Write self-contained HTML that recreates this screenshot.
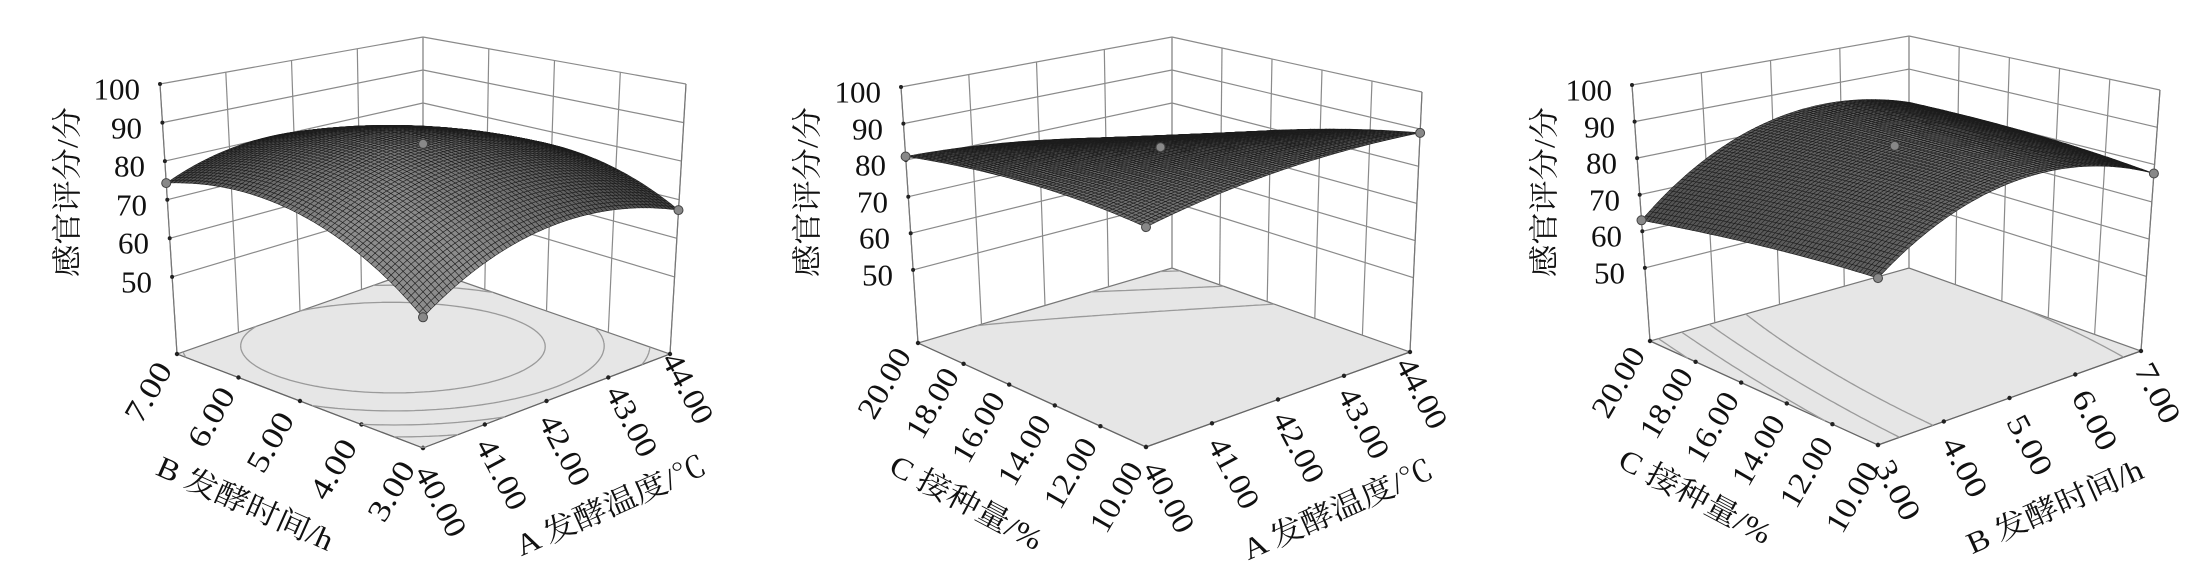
<!DOCTYPE html>
<html><head><meta charset="utf-8"><style>
html,body{margin:0;padding:0;background:#fff}
svg{display:block}
.n{font-family:"Liberation Serif","Noto Serif CJK SC",serif;font-size:31px;fill:#111}
.t{font-family:"Liberation Serif","Noto Serif CJK SC",serif;font-size:30px;fill:#111}
</style></head><body>
<svg id="s" width="2204" height="574" viewBox="0 0 2204 574" xmlns="http://www.w3.org/2000/svg">
<g id="geo"></g>
<g id="txt">
<g class="n" text-anchor="end" dominant-baseline="central">
<text x="140" y="89">100</text><text x="142" y="128">90</text><text x="145" y="166">80</text><text x="147" y="205">70</text><text x="149" y="243">60</text><text x="152" y="282">50</text>
<text x="881" y="92">100</text><text x="883" y="129">90</text><text x="886" y="165">80</text><text x="888" y="202">70</text><text x="890" y="238">60</text><text x="893" y="275">50</text>
<text x="1612" y="90">100</text><text x="1615" y="127">90</text><text x="1617" y="163">80</text><text x="1620" y="200">70</text><text x="1622" y="236">60</text><text x="1625" y="273">50</text>
</g>
<g class="t" text-anchor="middle" dominant-baseline="central">
<text transform="translate(68,192) rotate(-90)" textLength="170" lengthAdjust="spacingAndGlyphs">感官评分/分</text>
<text transform="translate(808,192) rotate(-90)" textLength="170" lengthAdjust="spacingAndGlyphs">感官评分/分</text>
<text transform="translate(1545,192) rotate(-90)" textLength="170" lengthAdjust="spacingAndGlyphs">感官评分/分</text>
</g>
<g class="n" text-anchor="middle" dominant-baseline="central">
<text transform="translate(148,392) rotate(-60)" textLength="64" lengthAdjust="spacingAndGlyphs">7.00</text>
<text transform="translate(211,417) rotate(-60)" textLength="64" lengthAdjust="spacingAndGlyphs">6.00</text>
<text transform="translate(270,442) rotate(-60)" textLength="64" lengthAdjust="spacingAndGlyphs">5.00</text>
<text transform="translate(333,469) rotate(-60)" textLength="64" lengthAdjust="spacingAndGlyphs">4.00</text>
<text transform="translate(391,491) rotate(-60)" textLength="64" lengthAdjust="spacingAndGlyphs">3.00</text>
<text transform="translate(441,501) rotate(62)" textLength="76" lengthAdjust="spacingAndGlyphs">40.00</text>
<text transform="translate(502,474) rotate(62)" textLength="76" lengthAdjust="spacingAndGlyphs">41.00</text>
<text transform="translate(565,450) rotate(62)" textLength="76" lengthAdjust="spacingAndGlyphs">42.00</text>
<text transform="translate(632,421) rotate(62)" textLength="76" lengthAdjust="spacingAndGlyphs">43.00</text>
<text transform="translate(688,388) rotate(62)" textLength="76" lengthAdjust="spacingAndGlyphs">44.00</text>
<text transform="translate(884,383) rotate(-60)" textLength="76" lengthAdjust="spacingAndGlyphs">20.00</text>
<text transform="translate(932,403) rotate(-60)" textLength="76" lengthAdjust="spacingAndGlyphs">18.00</text>
<text transform="translate(978,427) rotate(-60)" textLength="76" lengthAdjust="spacingAndGlyphs">16.00</text>
<text transform="translate(1024,450) rotate(-60)" textLength="76" lengthAdjust="spacingAndGlyphs">14.00</text>
<text transform="translate(1070,473) rotate(-60)" textLength="76" lengthAdjust="spacingAndGlyphs">12.00</text>
<text transform="translate(1116,497) rotate(-60)" textLength="76" lengthAdjust="spacingAndGlyphs">10.00</text>
<text transform="translate(1169,497) rotate(62)" textLength="76" lengthAdjust="spacingAndGlyphs">40.00</text>
<text transform="translate(1234,473) rotate(62)" textLength="76" lengthAdjust="spacingAndGlyphs">41.00</text>
<text transform="translate(1299,447) rotate(62)" textLength="76" lengthAdjust="spacingAndGlyphs">42.00</text>
<text transform="translate(1364,423) rotate(62)" textLength="76" lengthAdjust="spacingAndGlyphs">43.00</text>
<text transform="translate(1422,393) rotate(62)" textLength="76" lengthAdjust="spacingAndGlyphs">44.00</text>
<text transform="translate(1618,382) rotate(-60)" textLength="76" lengthAdjust="spacingAndGlyphs">20.00</text>
<text transform="translate(1666,403) rotate(-60)" textLength="76" lengthAdjust="spacingAndGlyphs">18.00</text>
<text transform="translate(1712,427) rotate(-60)" textLength="76" lengthAdjust="spacingAndGlyphs">16.00</text>
<text transform="translate(1758,450) rotate(-60)" textLength="76" lengthAdjust="spacingAndGlyphs">14.00</text>
<text transform="translate(1806,472) rotate(-60)" textLength="76" lengthAdjust="spacingAndGlyphs">12.00</text>
<text transform="translate(1852,497) rotate(-60)" textLength="76" lengthAdjust="spacingAndGlyphs">10.00</text>
<text transform="translate(1898,490) rotate(62)" textLength="64" lengthAdjust="spacingAndGlyphs">3.00</text>
<text transform="translate(1965,467) rotate(62)" textLength="64" lengthAdjust="spacingAndGlyphs">4.00</text>
<text transform="translate(2030,445) rotate(62)" textLength="64" lengthAdjust="spacingAndGlyphs">5.00</text>
<text transform="translate(2095,420) rotate(62)" textLength="64" lengthAdjust="spacingAndGlyphs">6.00</text>
<text transform="translate(2158,393) rotate(62)" textLength="64" lengthAdjust="spacingAndGlyphs">7.00</text>
</g>
<g class="t" text-anchor="middle" dominant-baseline="central">
<text transform="translate(245,504) rotate(24)" textLength="190" lengthAdjust="spacingAndGlyphs">B 发酵时间/h</text>
<text transform="translate(611,506) rotate(-24)" textLength="205" lengthAdjust="spacingAndGlyphs">A 发酵温度/℃</text>
<text transform="translate(966,503) rotate(28)" textLength="168" lengthAdjust="spacingAndGlyphs">C 接种量/%</text>
<text transform="translate(1338,510) rotate(-24)" textLength="205" lengthAdjust="spacingAndGlyphs">A 发酵温度/℃</text>
<text transform="translate(1695,497) rotate(28)" textLength="168" lengthAdjust="spacingAndGlyphs">C 接种量/%</text>
<text transform="translate(2055,507) rotate(-24)" textLength="190" lengthAdjust="spacingAndGlyphs">B 发酵时间/h</text>
</g>
</g>
</svg>
<script>
(function(){
var G=document.getElementById("geo"),out=[];
var panels=[
 {F:[423,448],R:[670,354],L:[177,354],B:[423,268],Rt:[686,84],Lt:[160,84],Bt:[423,37],
  c:[85,0.35,3.85,-3.5,-8.85,-8.85],nl:[4,4],lv:[60,65,70,75,80],dots:[[0,1],[1,0],[0,0],[.5,.5]]},
 {F:[1146,447],R:[1410,352],L:[918,343],B:[1172,268],Rt:[1422,92],Lt:[901,87],Bt:[1172,37],
  c:[85.7,-1.75,-5.75,-4.25,-2.5,-2.45],nl:[4,5],lv:[70,75,80],dots:[[0,1],[1,0],[0,0],[.5,.5]]},
 {F:[1878,445],R:[2141,351],L:[1650,341],B:[1909,268],Rt:[2160,90],Lt:[1632,85],Bt:[1909,36],
  c:[85.6,5.9,-1.4,2.6,-11.5,-1.2],nl:[4,5],lv:[65,70,75,80],dots:[[0,1],[1,0],[0,0],[.5,.5]]}
];
function bl(a,b,c,d,s,t){return (1-s)*(1-t)*a+s*(1-t)*b+(1-s)*t*c+s*t*d;}
panels.forEach(function(p){
 var kF=((p.L[1]-p.Lt[1])+(p.R[1]-p.Rt[1])-(p.B[1]-p.Bt[1]));
 p.Ft=[p.F[0],p.F[1]-kF];
 p.pr=function(s,t,z){
  var bx=bl(p.F[0],p.R[0],p.L[0],p.B[0],s,t),by=bl(p.F[1],p.R[1],p.L[1],p.B[1],s,t);
  var tx=bl(p.Ft[0],p.Rt[0],p.Lt[0],p.Bt[0],s,t),ty=bl(p.Ft[1],p.Rt[1],p.Lt[1],p.Bt[1],s,t);
  var f=(z-30)/70;return [bx+(tx-bx)*f,by+(ty-by)*f];};
 p.f=function(s,t){var x=2*s-1,y=2*t-1,c=p.c;return c[0]+c[1]*x+c[2]*y+c[3]*x*y+c[4]*x*x+c[5]*y*y;};
});
function P(a){return a[0].toFixed(1)+","+a[1].toFixed(1);}
function line(a,b,col,w){out.push('<line x1="'+a[0].toFixed(1)+'" y1="'+a[1].toFixed(1)+'" x2="'+b[0].toFixed(1)+'" y2="'+b[1].toFixed(1)+'" stroke="'+col+'" stroke-width="'+w+'"/>');}
panels.forEach(function(p){
 var pr=p.pr,gc="#8a8a8a";
 out.push('<polygon points="'+[pr(0,0,30),pr(1,0,30),pr(1,1,30),pr(0,1,30)].map(P).join(" ")+'" fill="#e6e6e6" stroke="#777" stroke-width="1.2"/>');
 for(var z=50;z<=100;z+=10){line(pr(0,1,z),pr(1,1,z),gc,1.2);line(pr(1,0,z),pr(1,1,z),gc,1.2);}
 for(var i=0;i<=p.nl[0];i++){var s=i/p.nl[0];line(pr(s,1,30),pr(s,1,100),gc,1.2);}
 for(var j=0;j<=p.nl[1];j++){var t=j/p.nl[1];line(pr(1,t,30),pr(1,t,100),gc,1.2);}
 line(pr(0,0,30),pr(0,1,30),"#666",1.2);line(pr(0,0,30),pr(1,0,30),"#666",1.2);
 line(pr(0,1,30),pr(0,1,100),"#777",1.2);line(pr(1,0,30),pr(1,0,100),"#777",1.2);
 for(var z=50;z<=100;z+=10){var q=pr(0,1,z);out.push('<circle cx="'+q[0].toFixed(1)+'" cy="'+q[1].toFixed(1)+'" r="2" fill="#222"/>');}
 for(var i=0;i<=p.nl[0];i++){var q=pr(i/p.nl[0],0,30);out.push('<circle cx="'+q[0].toFixed(1)+'" cy="'+q[1].toFixed(1)+'" r="2.2" fill="#222"/>');}
 for(var j=0;j<=p.nl[1];j++){var q=pr(0,j/p.nl[1],30);out.push('<circle cx="'+q[0].toFixed(1)+'" cy="'+q[1].toFixed(1)+'" r="2.2" fill="#222"/>');}
 var N=60;
 p.lv.forEach(function(L){
  var d="";
  for(var a=0;a<N;a++)for(var b=0;b<N;b++){
   var s0=a/N,s1=(a+1)/N,t0=b/N,t1=(b+1)/N;
   var v=[p.f(s0,t0)-L,p.f(s1,t0)-L,p.f(s1,t1)-L,p.f(s0,t1)-L];
   var cs=[[s0,t0],[s1,t0],[s1,t1],[s0,t1]],pts=[];
   for(var e=0;e<4;e++){var e2=(e+1)%4;if((v[e]<0)!=(v[e2]<0)){var r=v[e]/(v[e]-v[e2]);pts.push([cs[e][0]+(cs[e2][0]-cs[e][0])*r,cs[e][1]+(cs[e2][1]-cs[e][1])*r]);}}
   if(pts.length>=2){d+="M"+P(pr(pts[0][0],pts[0][1],30))+"L"+P(pr(pts[1][0],pts[1][1],30));}
   if(pts.length==4){d+="M"+P(pr(pts[2][0],pts[2][1],30))+"L"+P(pr(pts[3][0],pts[3][1],30));}
  }
  out.push('<path d="'+d+'" stroke="#9a9a9a" stroke-width="1.3" fill="none"/>');
 });
 var M=64,quads=[];
 for(var a=0;a<M;a++)for(var b=0;b<M;b++){
  var s0=a/M,s1=(a+1)/M,t0=b/M,t1=(b+1)/M;
  var z00=p.f(s0,t0),z10=p.f(s1,t0),z11=p.f(s1,t1),z01=p.f(s0,t1);
  var gs=((z10+z11)-(z00+z01))/2*M/20,gt=((z01+z11)-(z00+z10))/2*M/20;
  var sh=0.42+0.1*(gs+gt)/2-0.06*Math.abs(gs-gt);
  sh=Math.max(0.22,Math.min(0.55,sh));
  quads.push({k:s0+t0,pts:[pr(s0,t0,z00),pr(s1,t0,z10),pr(s1,t1,z11),pr(s0,t1,z01)],c:Math.round(sh*255)});
 }
 quads.sort(function(x,y){return y.k-x.k;});
 quads.forEach(function(q){out.push('<polygon points="'+q.pts.map(P).join(" ")+'" fill="rgb('+q.c+','+q.c+','+q.c+')" stroke="#1c1c1c" stroke-width="0.55"/>');});
 p.dots.forEach(function(d){var q=pr(d[0],d[1],p.f(d[0],d[1]));out.push('<circle cx="'+q[0].toFixed(1)+'" cy="'+q[1].toFixed(1)+'" r="4.5" fill="#888" stroke="#444" stroke-width="1"/>');});
});
G.innerHTML=out.join("");
})();
</script>
</body></html>
